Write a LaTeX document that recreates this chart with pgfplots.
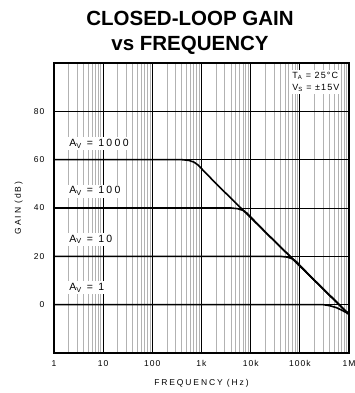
\documentclass[border=0pt]{standalone}
\usepackage{fontspec}
\setmainfont{Liberation Sans}
\newfontfamily\wf[LetterSpace=12]{Liberation Sans}
\newfontfamily\wwf[LetterSpace=22]{Liberation Sans}
\usepackage{pgfplots}
\pgfplotsset{compat=1.18}
\begin{document}
\begin{tikzpicture}
\path[use as bounding box] (-54pt,-40pt) rectangle (300pt,353pt);
\begin{axis}[
  scale only axis, width=295pt, height=290pt,
  xmode=log, log basis x=10,
  xmin=1, xmax=1e6, ymin=-20, ymax=100,
  xtick={1,10,100,1000,10000,100000,1000000},
  xticklabels={1,10,100,1k,10k,100k,1M},
  minor xtick={2,3,4,5,6,7,8,9,20,30,40,50,60,70,80,90,200,300,400,500,600,700,800,900,2000,3000,4000,5000,6000,7000,8000,9000,20000,30000,40000,50000,60000,70000,80000,90000,200000,300000,400000,500000,600000,700000,800000,900000},
  ytick={0,20,40,60,80},
  /pgf/number format/assume math mode=true,
  tick label style={font=\wf\fontsize{8.5}{9}\selectfont},
  xticklabel style={yshift=-4pt},
  yticklabel style={xshift=-6pt},
  xlabel={FREQUENCY (Hz)}, ylabel={GAIN (dB)},
  label style={font=\wwf\fontsize{8.5}{9}\selectfont},
  xlabel style={at={(axis description cs:0.5,-0.103)}, anchor=center},
  ylabel style={at={(axis description cs:-0.12,0.5)}, anchor=center},
  xmajorgrids=true, xminorgrids=true, ymajorgrids=true,
  major grid style={black, line width=0.9pt},
  minor grid style={gray!60, line width=1pt},
  axis line style={black, line width=1.2pt},
  tick style={draw=none},
  clip=true,
]
\addplot[black, line width=1.6pt] coordinates {(1,60) (400,60) (550,59.7) (700,59) (850,57.8) (1000,56.3) (2000,50) (1000000,-4)};
\addplot[black, line width=1.6pt] coordinates {(1,40) (4000,40) (5500,39.7) (7000,39) (8500,37.8) (10000,36.3) (20000,30) (1000000,-4)};
\addplot[black, line width=1.6pt] coordinates {(1,20) (40000,20) (55000,19.7) (70000,19) (85000,17.8) (100000,16.3) (200000,10) (1000000,-4)};
\addplot[black, line width=1.6pt] coordinates {(1,0) (300000,0) (400000,-0.4) (550000,-1.2) (700000,-2.2) (850000,-3.1) (1000000,-4)};
\node[fill=white, anchor=west, inner sep=2pt, font=\wwf\fontsize{10.5}{11}\selectfont] at (axis cs:1.85,66.5) {A\textsubscript{V} = 1000};
\node[fill=white, anchor=west, inner sep=2pt, font=\wwf\fontsize{10.5}{11}\selectfont] at (axis cs:1.85,47) {A\textsubscript{V} = 100};
\node[fill=white, anchor=west, inner sep=2pt, font=\wwf\fontsize{10.5}{11}\selectfont] at (axis cs:1.85,27) {A\textsubscript{V} = 10};
\node[fill=white, anchor=west, inner sep=2pt, font=\wwf\fontsize{10.5}{11}\selectfont] at (axis cs:1.85,7) {A\textsubscript{V} = 1};
\node[fill=white, anchor=north east, inner sep=2pt, align=left, font=\wf\fontsize{9}{12}\selectfont] at (rel axis cs:0.975,0.975) {T\textsubscript{A} = 25°C\\V\textsubscript{S} = ±15V};
\end{axis}
\node[font=\bfseries\fontsize{20.5}{25}\selectfont, align=center] at (136pt,320pt) {CLOSED-LOOP GAIN\\vs FREQUENCY};
\end{tikzpicture}
\end{document}
